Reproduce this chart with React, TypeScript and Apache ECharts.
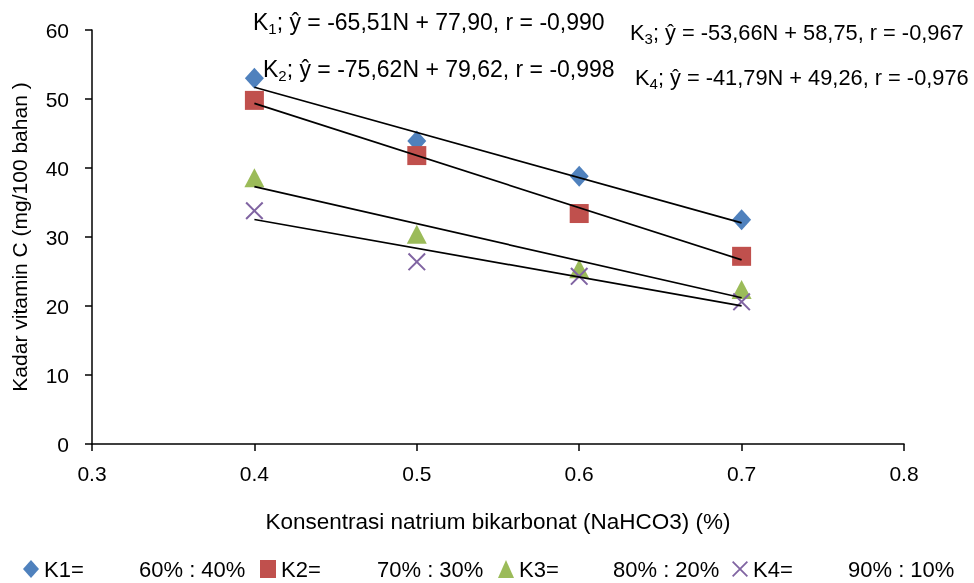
import React, { useEffect, useRef } from "react";
import * as echarts from "echarts";

const FONT = "'Liberation Sans', Arial, sans-serif";

const xValues = [0.4, 0.5, 0.6, 0.7];
const k1 = [53.0, 43.9, 38.8, 32.5];
const k2 = [49.8, 41.8, 33.4, 27.2];
const k3 = [38.6, 30.4, 25.4, 22.4];
const k4 = [33.8, 26.4, 24.3, 20.6];
// trend line endpoints (from the printed regression equations)
const trendX = [0.4, 0.7];
const trendK1 = [51.70, 32.04];
const trendK2 = [49.37, 26.69];
const trendK3 = [37.29, 21.19];
const trendK4 = [32.54, 20.01];

const legendNames = ["K1=", "K2=", "K3=", "K4="];
const legendRatios = ["60% : 40%", "70% : 30%", "80% : 20%", "90% : 10%"];
const eqSubs = ["1", "2", "3", "4"];
const eqTexts = [
  "; ŷ = -65,51N + 77,90, r = -0,990",
  "; ŷ = -75,62N + 79,62, r = -0,998",
  "; ŷ = -53,66N + 58,75, r = -0,967",
  "; ŷ = -41,79N + 49,26, r = -0,976",
];
const colors = ["#4F81BD", "#C0504D", "#9BBB59", "#8064A2"];
const xTicks = ["0.3", "0.4", "0.5", "0.6", "0.7", "0.8"];

const X_PATH = "path://M0,0.8L0.8,0L10,9.2L9.2,10Z M9.2,0L10,0.8L0.8,10L0,9.2Z";

export default function App() {
  const ref = useRef<HTMLDivElement>(null);
  useEffect(() => {
    const chart = echarts.init(ref.current!, null, { renderer: "svg" });
    const pts = (ys: number[]) => xValues.map((x, i) => [x, ys[i]]);
    const tr = (ys: number[]) => trendX.map((x, i) => [x, ys[i]]);
    const symbols = ["diamond", "rect", "triangle", X_PATH];
    const sizes: any[] = [[19, 21], 19, [20, 19], 18];
    const data = [k1, k2, k3, k4];
    const trends = [trendK1, trendK2, trendK3, trendK4];
    const eqPos = [
      [253, 8],
      [263, 55],
      [630, 18],
      [635, 63],
    ];
    const eqSize = [23, 23, 21.8, 21.8];
    const nameW = [95, 96, 94, 95];
    const ratioW = [113, 113, 111, 0];
    const series: any[] = [];
    trends.forEach((t) => {
      series.push({
        type: "line",
        data: tr(t),
        symbol: "none",
        lineStyle: { color: "#000", width: 1.7 },
        silent: true,
        z: 3,
      });
    });
    data.forEach((d, i) => {
      series.push({
        type: "scatter",
        name: legendNames[i],
        data: pts(d),
        symbol: symbols[i],
        symbolSize: sizes[i],
        itemStyle: { color: colors[i], opacity: 1 },
        z: 2,
      });
    });
    const rich: any = {};
    for (let i = 0; i < 4; i++) {
      rich["a" + i] = { fontSize: 22, color: "#000", width: nameW[i], lineHeight: 22, fontFamily: FONT };
      rich["b" + i] = { fontSize: 22, color: "#000", lineHeight: 22, fontFamily: FONT };
      if (ratioW[i]) rich["b" + i].width = ratioW[i];
    }
    chart.setOption({
      animation: false,
      textStyle: { fontFamily: FONT },
      grid: { left: 92, right: 70, top: 30, bottom: 139 },
      xAxis: {
        type: "value",
        min: 0.3,
        max: 0.8,
        interval: 0.1,
        name: "Konsentrasi natrium bikarbonat (NaHCO3) (%)",
        nameLocation: "middle",
        nameGap: 66,
        nameTextStyle: { fontSize: 22.5, color: "#000", fontFamily: FONT },
        axisLine: { lineStyle: { color: "#000", width: 1.5 } },
        axisTick: { show: true, length: 7, lineStyle: { color: "#000", width: 1.5 } },
        axisLabel: {
          fontSize: 21,
          color: "#000",
          margin: 19,
          fontFamily: FONT,
          formatter: (v: number) => xTicks[Math.round((v - 0.3) * 10)] ?? "",
        },
        splitLine: { show: false },
      },
      yAxis: {
        type: "value",
        min: 0,
        max: 60,
        interval: 10,
        name: "Kadar vitamin C (mg/100 bahan )",
        nameLocation: "middle",
        nameGap: 62,
        nameTextStyle: { fontSize: 21, color: "#000", fontFamily: FONT },
        axisLine: { show: true, lineStyle: { color: "#000", width: 1.5 } },
        axisTick: { show: true, length: 7, lineStyle: { color: "#000", width: 1.5 } },
        axisLabel: { fontSize: 21, color: "#000", margin: 23, fontFamily: FONT },
        splitLine: { show: false },
      },
      legend: {
        data: legendNames.map((n, i) => ({ name: n, icon: symbols[i] })),
        left: 18,
        top: 553,
        padding: [5, 0, 5, 5],
        itemWidth: 16,
        itemHeight: 18,
        itemGap: 8,
        selectedMode: false,
        formatter: (name: string) => {
          const i = legendNames.indexOf(name);
          return `{a${i}|${name}}{b${i}|${legendRatios[i]}}`;
        },
        textStyle: { fontFamily: FONT, rich },
      },
      graphic: eqTexts.map((t, i) => ({
        type: "text",
        x: eqPos[i][0],
        y: eqPos[i][1],
        style: {
          text: `{m|K}{s|${eqSubs[i]}}{m|${t}}`,
          rich: {
            m: { fontSize: eqSize[i], fill: "#000", fontFamily: FONT, lineHeight: 28 },
            s: { fontSize: 15, fill: "#000", fontFamily: FONT, lineHeight: 28, padding: [13, 0, 0, 0] },
          },
        },
      })),
      series,
    });
    return () => chart.dispose();
  }, []);
  return (
    <div
      ref={ref}
      style={{ position: "fixed", left: 0, top: 0, width: 974, height: 583 }}
    />
  );
}
